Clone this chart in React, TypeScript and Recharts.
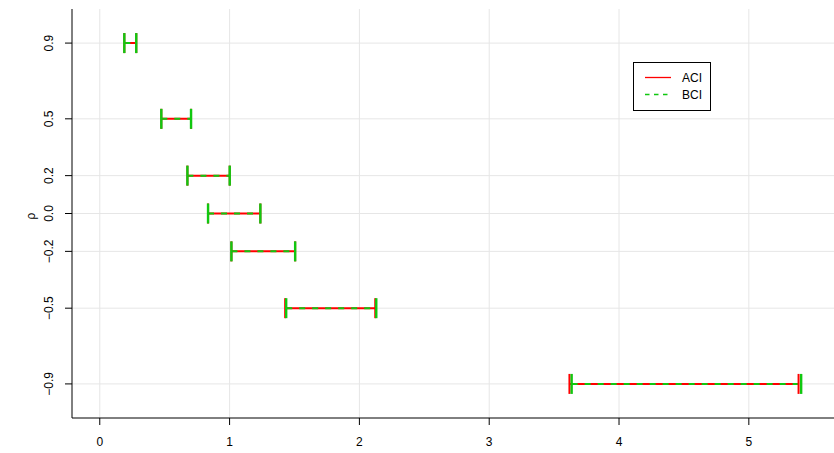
import React from "react";
import { ComposedChart, Line, XAxis, YAxis, CartesianGrid } from "recharts";

const rho = [0.9, 0.5, 0.2, 0.0, -0.2, -0.5, -0.9];
const aciLower = [0.189, 0.474, 0.675, 0.834, 1.014, 1.428, 3.618];
const aciUpper = [0.281, 0.703, 1.001, 1.237, 1.505, 2.122, 5.383];
const bciLower = [0.189, 0.474, 0.675, 0.834, 1.014, 1.436, 3.635];
const bciUpper = [0.281, 0.703, 1.001, 1.237, 1.505, 2.13, 5.403];
const xTicks = [0, 1, 2, 3, 4, 5];
const yTicks = [-0.9, -0.5, -0.2, 0.0, 0.2, 0.5, 0.9];
const seriesNames = ["ACI", "BCI"];

const RED = "#FF0000";
const GREEN = "#10C810";
const FONT = "'Liberation Sans', Arial, Helvetica, sans-serif";

function buildSegments(lo: number[], hi: number[]) {
  const out: { x: number; y: number | null }[] = [];
  rho.forEach((r, i) => {
    out.push({ x: lo[i], y: r });
    out.push({ x: hi[i], y: r });
    out.push({ x: hi[i], y: null });
  });
  return out;
}

const aciData = buildSegments(aciLower, aciUpper);
const bciData = buildSegments(bciLower, bciUpper);

const makeCap = (color: string, w: number) => (props: any) => {
  const { cx, cy, index, value } = props;
  if (cx == null || cy == null || value == null || Number.isNaN(cy)) {
    return <g key={`c-${color}-${index}`} />;
  }
  return (
    <line
      key={`c-${color}-${index}`}
      x1={cx}
      x2={cx}
      y1={cy - 10}
      y2={cy + 10}
      stroke={color}
      strokeWidth={w}
    />
  );
};

const fmtY = (v: number) => {
  const s = Math.abs(v).toFixed(1);
  return v < 0 ? "\u2212" + s : s;
};

const YTick = (props: any) => {
  const { x, y, payload } = props;
  return (
    <text
      x={x}
      y={y}
      transform={`rotate(-90, ${x}, ${y})`}
      textAnchor="middle"
      fontFamily={FONT}
      fontSize={12}
      fill="#000"
    >
      {fmtY(payload.value)}
    </text>
  );
};

const XTick = (props: any) => {
  const { x, y, payload } = props;
  return (
    <text x={x} y={y + 19} textAnchor="middle" fontFamily={FONT} fontSize={12} fill="#000">
      {String(payload.value)}
    </text>
  );
};

const LegendBox = () => (
  <div
    style={{
      position: "absolute",
      left: 633,
      top: 62,
      width: 78,
      height: 49,
      border: "1px solid #000",
      boxSizing: "border-box",
      background: "#fff",
      fontFamily: FONT,
      fontSize: 12,
    }}
  >
    <svg width={76} height={47} style={{ position: "absolute", left: 0, top: 0 }}>
      <line x1={11} x2={37} y1={14.5} y2={14.5} stroke={RED} strokeWidth={1.3} />
      <line x1={11} x2={37} y1={31.5} y2={31.5} stroke={GREEN} strokeWidth={1.3} strokeDasharray="4.5 4.5" />
      <text x={48} y={19} fontFamily={FONT} fontSize={12} fill="#000">
        {seriesNames[0]}
      </text>
      <text x={48} y={36} fontFamily={FONT} fontSize={12} fill="#000">
        {seriesNames[1]}
      </text>
    </svg>
  </div>
);

export default function App() {
  return (
    <div style={{ position: "absolute", left: 0, top: 0, width: 834, height: 453, overflow: "hidden", background: "#fff" }}>
      <ComposedChart width={834} height={453} margin={{ top: 9, right: 0, bottom: 0, left: 0 }}>
        <CartesianGrid stroke="#e6e6e6" strokeWidth={1} horizontalValues={yTicks} verticalValues={xTicks} />
        <XAxis
          xAxisId={0}
          dataKey="x"
          type="number"
          domain={[-0.214, 5.656]}
          allowDataOverflow
          ticks={xTicks}
          interval={0}
          height={35}
          tickSize={7}
          tickLine={{ stroke: "#000" }}
          axisLine={{ stroke: "#000" }}
          tick={<XTick />}
        />
        <XAxis
          xAxisId="top"
          orientation="top"
          type="number"
          domain={[-0.214, 5.656]}
          allowDataOverflow
          height={0}
          tick={false}
          tickLine={false}
          axisLine={{ stroke: "#000" }}
        />
        <YAxis
          type="number"
          domain={[-1.08, 1.08]}
          allowDataOverflow
          ticks={yTicks}
          interval={0}
          width={72}
          tickSize={7}
          tickMargin={12}
          tickLine={{ stroke: "#000" }}
          axisLine={{ stroke: "#000" }}
          tick={<YTick />}
          label={{
            content: () => (
              <text
                x={35}
                y={216}
                transform="rotate(-90, 35, 216)"
                textAnchor="middle"
                fontFamily={FONT}
                fontSize={12}
                fill="#000"
              >
                ρ
              </text>
            ),
          }}
        />
        <Line
          data={aciData}
          dataKey="y"
          name={seriesNames[0]}
          stroke={RED}
          strokeWidth={2}
          dot={makeCap(RED, 2)}
          activeDot={false}
          connectNulls={false}
          isAnimationActive={false}
        />
        <Line
          data={bciData}
          dataKey="y"
          name={seriesNames[1]}
          stroke={GREEN}
          strokeWidth={2}
          strokeDasharray="6 7"
          dot={makeCap(GREEN, 2.4)}
          activeDot={false}
          connectNulls={false}
          isAnimationActive={false}
        />
      </ComposedChart>
      <LegendBox />
    </div>
  );
}
